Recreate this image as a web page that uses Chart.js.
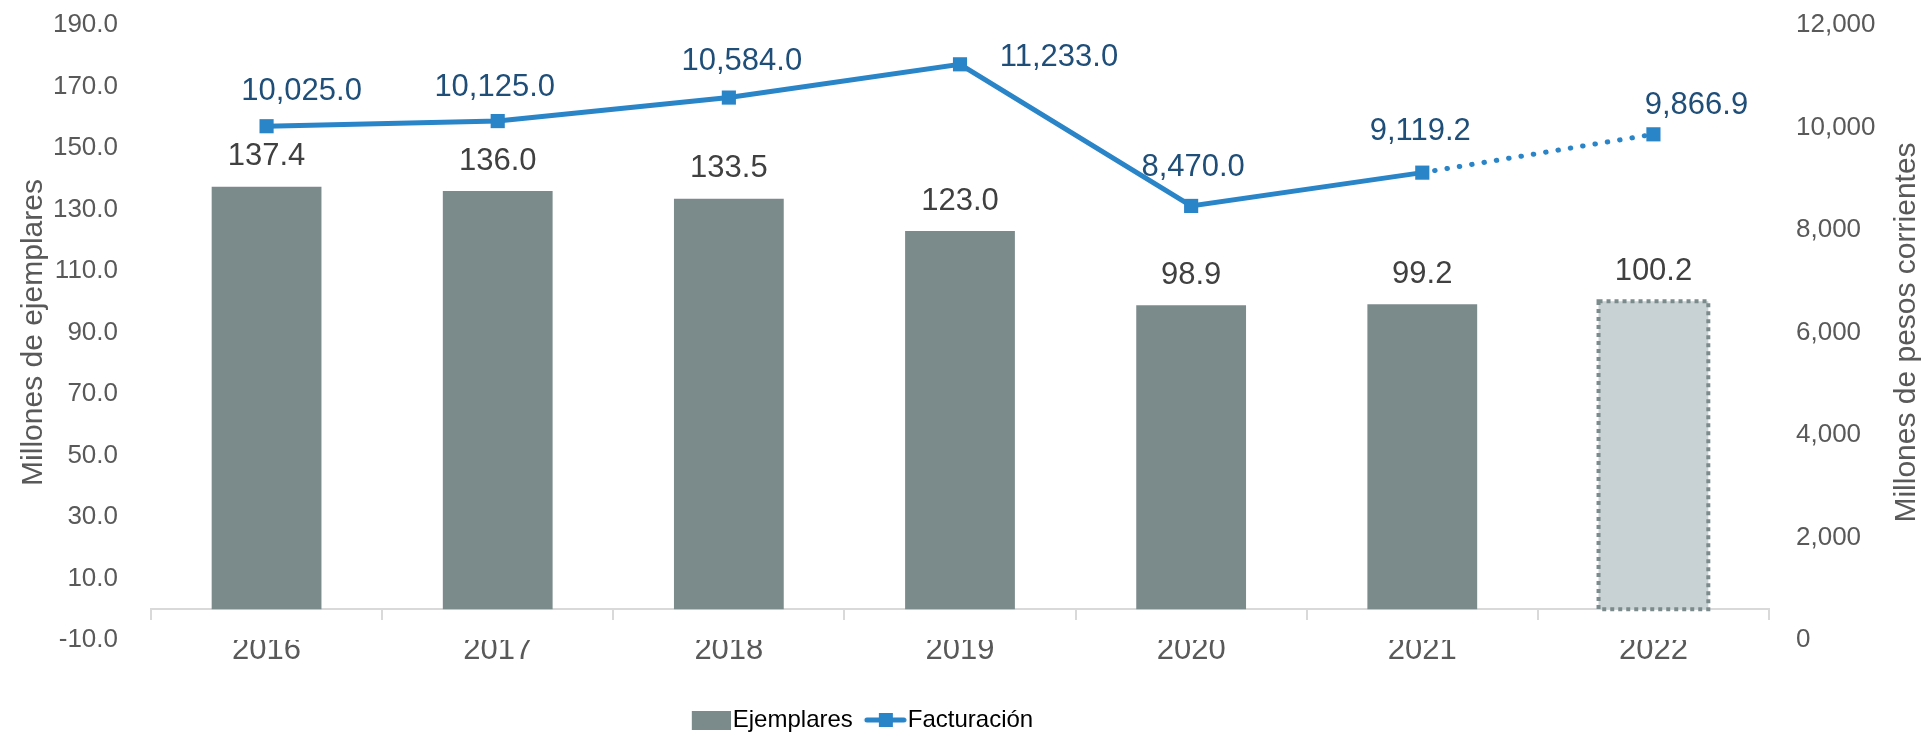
<!DOCTYPE html>
<html>
<head>
<meta charset="utf-8">
<script src="https://cdn.jsdelivr.net/npm/chart.js@4.4.1/dist/chart.umd.min.js"></script>
<style>
  html, body { margin: 0; padding: 0; background: #fff; }
  #wrap { width: 1926px; height: 737px; }
</style>
</head>
<body>
<div id="wrap"><canvas id="chart"></canvas></div>
<script>
// ---------------- DATOS ----------------
const years       = ['2016', '2017', '2018', '2019', '2020', '2021', '2022'];
const ejemplares  = [137.4, 136.0, 133.5, 123.0, 98.9, 99.2, 100.2];   // millones de ejemplares
const facturacion = [10025.0, 10125.0, 10584.0, 11233.0, 8470.0, 9119.2, 9866.9]; // millones de pesos

// desplazamiento de las etiquetas de la línea (px), como en el original
const lineLabelOffsets = [[35, -35], [-3, -34], [13, -36], [99, -7], [2, -38], [-2, -41], [43, -29]];

const FONT = "'Liberation Sans', Arial, sans-serif";
const GREY = '#7b8b8c';
const GREY_LIGHT = '#c8d1d3';
const BLUE = '#2a84c8';
const BLUE_DARK = '#1f4e79';
const TEXT = '#595959';

Chart.defaults.font.family = FONT;
Chart.defaults.color = TEXT;

// ---------------- muestras de la leyenda ----------------
function barSwatch() {
  const c = document.createElement('canvas');
  c.width = 44; c.height = 19;
  const g = c.getContext('2d');
  g.fillStyle = GREY;
  g.fillRect(5, 0, 39, 19);
  return c;
}
function lineSwatch() {
  const c = document.createElement('canvas');
  c.width = 46; c.height = 16;
  const g = c.getContext('2d');
  g.strokeStyle = BLUE; g.lineWidth = 5; g.lineCap = 'round';
  g.beginPath(); g.moveTo(6, 8); g.lineTo(43, 8); g.stroke();
  g.fillStyle = BLUE;
  g.fillRect(18, 1, 14, 14);
  return c;
}

// ---------------- plugins ----------------
const valueLabels = {
  id: 'valueLabels',
  afterDatasetsDraw(chart) {
    const ctx = chart.ctx;
    ctx.save();
    ctx.textAlign = 'center';
    ctx.textBaseline = 'middle';
    ctx.font = `31px ${FONT}`;

    // barras
    const bars = chart.getDatasetMeta(0).data;
    ctx.fillStyle = '#404040';
    bars.forEach((bar, i) => {
      ctx.fillText(ejemplares[i].toFixed(1), bar.x, bar.y - 30);
    });

    // borde punteado de la barra estimada (2022)
    const last = bars[bars.length - 1];
    const p = last.getProps(['x', 'y', 'base', 'width'], true);
    ctx.strokeStyle = GREY;
    ctx.lineWidth = 4;
    ctx.setLineDash([4, 4]);
    ctx.strokeRect(p.x - p.width / 2, p.y, p.width, p.base - p.y);
    ctx.setLineDash([]);

    // línea
    const pts = chart.getDatasetMeta(1).data;
    ctx.fillStyle = BLUE_DARK;
    pts.forEach((pt, i) => {
      const txt = facturacion[i].toLocaleString('en-US', { minimumFractionDigits: 1, maximumFractionDigits: 1 });
      ctx.fillText(txt, pt.x + lineLabelOffsets[i][0], pt.y + lineLabelOffsets[i][1]);
    });
    ctx.restore();
  }
};

// título del eje derecho, de abajo hacia arriba como en Excel
const rightTitle = {
  id: 'rightTitle',
  afterDraw(chart) {
    const s = chart.scales.y1;
    const ctx = chart.ctx;
    ctx.save();
    ctx.translate(s.right - 19, (chart.chartArea.top + chart.chartArea.bottom) / 2);
    ctx.rotate(-Math.PI / 2);
    ctx.textAlign = 'center';
    ctx.textBaseline = 'middle';
    ctx.fillStyle = TEXT;
    ctx.font = `30px ${FONT}`;
    ctx.fillText('Millones de pesos corrientes', 0, 0);
    ctx.restore();
  }
};

// la leyenda del original no está centrada
const legendNudge = {
  id: 'legendNudge',
  afterLayout(chart) {
    const lg = chart.legend;
    lg.left -= 106; lg.right -= 106;
    lg.top += 19; lg.bottom += 19;
  }
};

// ---------------- gráfica ----------------
new Chart(document.getElementById('chart'), {
  type: 'bar',
  data: {
    labels: years,
    datasets: [
      {
        label: 'Ejemplares',
        data: ejemplares,
        yAxisID: 'y',
        backgroundColor: ejemplares.map((v, i) => i === ejemplares.length - 1 ? GREY_LIGHT : GREY),
        categoryPercentage: 1,
        barPercentage: 0.475,
        order: 2
      },
      {
        type: 'line',
        label: 'Facturación',
        data: facturacion,
        yAxisID: 'y1',
        borderColor: BLUE,
        backgroundColor: BLUE,
        borderWidth: 5,
        pointStyle: 'rect',
        pointRadius: 10,
        pointBorderWidth: 0,
        tension: 0,
        segment: {
          borderDash: c => c.p1DataIndex === facturacion.length - 1 ? [0.5, 12] : undefined,
          borderCapStyle: c => c.p1DataIndex === facturacion.length - 1 ? 'round' : 'butt'
        },
        order: 1
      }
    ]
  },
  options: {
    responsive: true,
    maintainAspectRatio: false,
    animation: false,
    layout: { padding: { left: 16, right: 0, top: 25, bottom: 14 } },
    plugins: {
      tooltip: { enabled: false },
      legend: {
        position: 'bottom',
        labels: {
          usePointStyle: true,
          pointStyleWidth: 24,
          padding: 19,
          color: TEXT,
          font: { size: 24 },
          generateLabels: () => [
            { text: 'Ejemplares', pointStyle: barSwatch(), fillStyle: GREY, strokeStyle: GREY, lineWidth: 0, hidden: false, datasetIndex: 0 },
            { text: 'Facturación', pointStyle: lineSwatch(), fillStyle: BLUE, strokeStyle: BLUE, lineWidth: 0, hidden: false, datasetIndex: 1 }
          ]
        }
      }
    },
    scales: {
      x: {
        position: 'bottom',
        grid: { display: false, drawTicks: false },
        border: { display: false },
        ticks: { padding: -8, color: TEXT, font: { size: 31 } },
        afterFit: s => { s.height = 30; }
      },
      x2: {
        type: 'category',
        labels: years,
        offset: true,
        position: { y: 0 },
        grid: { offset: true, drawOnChartArea: false, drawTicks: true, tickLength: 10, color: '#d9d9d9', lineWidth: 2 },
        border: { display: true, color: '#d9d9d9', width: 2 },
        ticks: { display: false }
      },
      y: {
        position: 'left',
        min: -10,
        max: 190,
        // la separación de las etiquetas se hace con tickLength (no dibujado)
        grid: { display: false, drawTicks: true, tickLength: 33 },
        border: { display: false },
        ticks: { stepSize: 20, padding: 0, color: TEXT, font: { size: 26 }, callback: v => v.toFixed(1) },
        title: { display: true, text: 'Millones de ejemplares', color: TEXT, font: { size: 30 }, padding: 0 },
        afterFit: s => { s.width = 135; }
      },
      y1: {
        position: 'right',
        min: 0,
        max: 12000,
        grid: { display: false, drawTicks: true, tickLength: 27 },
        border: { display: false },
        ticks: { stepSize: 2000, padding: 0, color: TEXT, font: { size: 26 }, callback: v => v.toLocaleString('en-US') },
        afterFit: s => { s.width = 157; }
      }
    }
  },
  plugins: [valueLabels, rightTitle, legendNudge]
});
</script>
</body>
</html>
